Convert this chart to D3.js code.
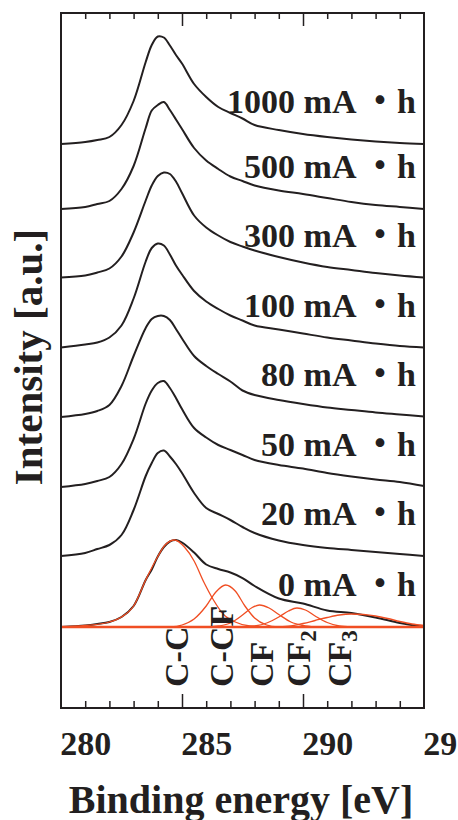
<!DOCTYPE html>
<html>
<head>
<meta charset="utf-8">
<script src="https://cdn.jsdelivr.net/npm/d3@7"></script>
<style>
  html, body { margin: 0; padding: 0; background: #fff; overflow: hidden; }
  svg text { font-family: "Liberation Serif", "Times New Roman", "Noto Sans CJK JP", serif; font-weight: bold; fill: #231f20; }
</style>
</head>
<body>
<script>
// binding energy grid (eV) the spectra were read on
const energy = [279, 280, 280.5, 281, 281.5, 282, 282.5, 282.75, 283, 283.25, 283.5, 283.75,
  284, 284.5, 285, 285.5, 286, 286.5, 287, 288, 289, 290, 291, 292, 293, 294];

const labels = ["0 mA ・h", "20 mA ・h", "50 mA ・h", "80 mA ・h", "100 mA ・h", "300 mA ・h", "500 mA ・h", "1000 mA ・h"];
const offsets = [0, 71, 140, 210, 279.5, 349.5, 418, 483];

const s0    = [0, 1.5, 3, 5, 10, 21, 47, 57.5, 70.5, 80, 85.5, 87, 84.5, 74.5, 62.5, 58, 54.5, 49, 41, 28.5, 23.5, 16.5, 14, 9.5, 4, 0];
const s20   = [0, 3, 7, 11, 21, 46, 80, 93, 103, 105.5, 99.5, 92, 83, 63, 48, 42, 36, 29, 23, 15.5, 11, 8, 6, 4, 2, 0];
const s50   = [0, 3, 6, 10, 23, 48, 83.5, 96.5, 104, 106, 99, 89, 78, 59, 49.5, 42, 37, 32, 27, 22, 18.5, 14, 10.5, 7.5, 5, 1];
const s80   = [0, 3, 6, 12, 31, 61, 89, 98, 101, 101, 97, 88, 78.5, 61, 51, 43, 35.5, 26.5, 22, 17, 13, 9.5, 7, 4.5, 2.5, 0.5];
const s100  = [0, 3, 5, 10, 22, 49, 86, 99.5, 104, 102, 93, 82, 73, 56.5, 46, 38.5, 32, 27, 22, 18, 14, 10, 7, 4, 1.5, 0];
const s300  = [0, 2, 5, 9, 21, 45, 77, 92, 101.5, 105, 103.5, 96, 84.5, 62, 50, 42, 35.5, 31, 27, 20.5, 15, 10.5, 7.5, 4.5, 2, 0];
const s500  = [0, 2, 5, 8, 20, 43, 81, 98.5, 104, 107, 99, 89.5, 80, 61, 48.5, 40, 32.5, 28, 23.5, 18.5, 15, 11, 7, 4, 2, 0];
const s1000 = [0, 2, 4, 7, 19, 43, 82, 99, 107.5, 106.5, 98.5, 89, 80.5, 60, 47, 37, 31, 25.5, 19, 14, 10, 7, 4.5, 2.5, 1, 0];
const spectra = [s0, s20, s50, s80, s100, s300, s500, s1000];

// fitted components of the 0 mA·h spectrum: [eV, intensity]
const compNames = ["C-C", "C-CF", "CF", "CF2", "CF3"];
const compCC   = [[279, 0], [280, 1.5], [281, 5], [281.5, 10], [282, 21], [282.5, 47], [283, 70.5], [283.3, 82], [283.7, 87], [284.1, 80], [284.5, 66], [284.9, 45], [285.3, 27], [285.7, 13], [286.2, 5], [286.8, 1], [287.5, 0]];
const compCCF  = [[283.5, 0], [284, 2], [284.5, 8], [285, 21], [285.4, 35], [285.8, 42], [286.2, 36], [286.6, 21], [287, 9], [287.5, 2], [288, 0]];
const compCF   = [[285, 0], [285.5, 1], [286, 4], [286.5, 12], [286.9, 19.5], [287.2, 22], [287.6, 19], [288, 12.5], [288.5, 5], [289, 1.5], [289.5, 0]];
const compCF2  = [[286.5, 0], [287, 1], [287.5, 4], [288, 10], [288.4, 16], [288.75, 19], [289.1, 17], [289.5, 11], [290, 4.5], [290.5, 1], [291, 0]];
const compCF3  = [[288, 0], [288.5, 1], [289, 3.5], [289.5, 6.5], [290, 9.5], [290.5, 12], [291, 13], [291.5, 12.5], [292, 11], [292.5, 8.5], [293, 5.5], [293.5, 3], [294, 1.5]];
const components = [compCC, compCCF, compCF, compCF2, compCF3];
const compLabelEnergy = [283.75, 285.6, 287.25, 288.8, 290.5];

const xLabelTicks = [280, 285, 290, 295];
const majorTicks = [284, 289];

const width = 458, height = 820;
const plotL = 61, plotR = 424, plotT = 13, plotB = 708;
const black = "#231f20", red = "#f04e23";

const svg = d3.select("body").append("svg").attr("width", width).attr("height", height);

const x = d3.scaleLinear().domain([279, 294]).range([plotL, plotR]);
const y = d3.scaleLinear().domain([-81, 614]).range([plotB, plotT]);

const line = d3.line().curve(d3.curveCatmullRom.alpha(0.5));

// spectra
spectra.forEach((s, i) => {
  svg.append("path")
    .attr("d", line(s.map((v, j) => [x(energy[j]), y(v + offsets[i])])))
    .attr("fill", "none").attr("stroke", black).attr("stroke-width", 2)
    .attr("stroke-linejoin", "round");
});

// fitted peaks
const cline = d3.line().curve(d3.curveMonotoneX).x(d => x(d[0])).y(d => y(d[1] + offsets[0]));
components.forEach(c => {
  svg.append("path").attr("d", cline(c))
    .attr("fill", "none").attr("stroke", red).attr("stroke-width", 1.3);
});
svg.append("path").attr("d", cline([[279, 0], [294, 0]]))
  .attr("fill", "none").attr("stroke", red).attr("stroke-width", 2.6);

// series labels
svg.selectAll("text.lab").data(labels).enter().append("text")
  .attr("class", "lab")
  .attr("x", 416).attr("y", (d, i) => y(offsets[i]) - 31)
  .attr("text-anchor", "end").attr("font-size", 34)
  .text(d => d);

// component labels (rotated)
compNames.forEach((n, i) => {
  const t = svg.append("text")
    .attr("transform", `translate(${x(compLabelEnergy[i]) + 12},687) rotate(-90)`)
    .attr("font-size", 34);
  if (n.endsWith("2") || n.endsWith("3")) {
    t.append("tspan").text(n.slice(0, -1));
    t.append("tspan").attr("dy", 6).attr("font-size", 23).text(n.slice(-1));
  } else {
    t.text(n);
  }
});

// frame
svg.append("rect").attr("x", plotL).attr("y", plotT)
  .attr("width", plotR - plotL).attr("height", plotB - plotT)
  .attr("fill", "none").attr("stroke", black).attr("stroke-width", 2);

// ticks
const tickVals = d3.range(280, 294, 1);
const gb = svg.append("g").attr("transform", `translate(0,${plotB})`)
  .call(d3.axisBottom(x).tickValues(tickVals).tickSize(-7).tickFormat(""));
gb.select(".domain").remove();
gb.selectAll(".tick line").attr("stroke", black).attr("stroke-width", 1.5)
  .attr("y2", d => majorTicks.includes(d) ? -14 : -7);

const gt = svg.append("g").attr("transform", `translate(0,${plotT})`)
  .call(d3.axisTop(x).tickValues(tickVals).tickSize(-6).tickFormat(""));
gt.select(".domain").remove();
gt.selectAll(".tick line").attr("stroke", black).attr("stroke-width", 1.5)
  .attr("y2", d => majorTicks.includes(d) ? 13 : 6);

const gl = svg.append("g").attr("transform", `translate(0,${plotB})`)
  .call(d3.axisBottom(x).tickValues(xLabelTicks).tickSize(0));
gl.select(".domain").remove();
gl.selectAll("text").attr("y", 47).attr("dy", null)
  .attr("font-size", 34).attr("font-family", null).attr("fill", black);

// axis titles
svg.append("text").attr("x", 241).attr("y", 813)
  .attr("text-anchor", "middle").attr("font-size", 40)
  .text("Binding energy [eV]");

svg.append("text").attr("transform", "translate(42,357) rotate(-90)")
  .attr("text-anchor", "middle").attr("font-size", 41)
  .text("Intensity [a.u.]");
</script>
</body>
</html>
